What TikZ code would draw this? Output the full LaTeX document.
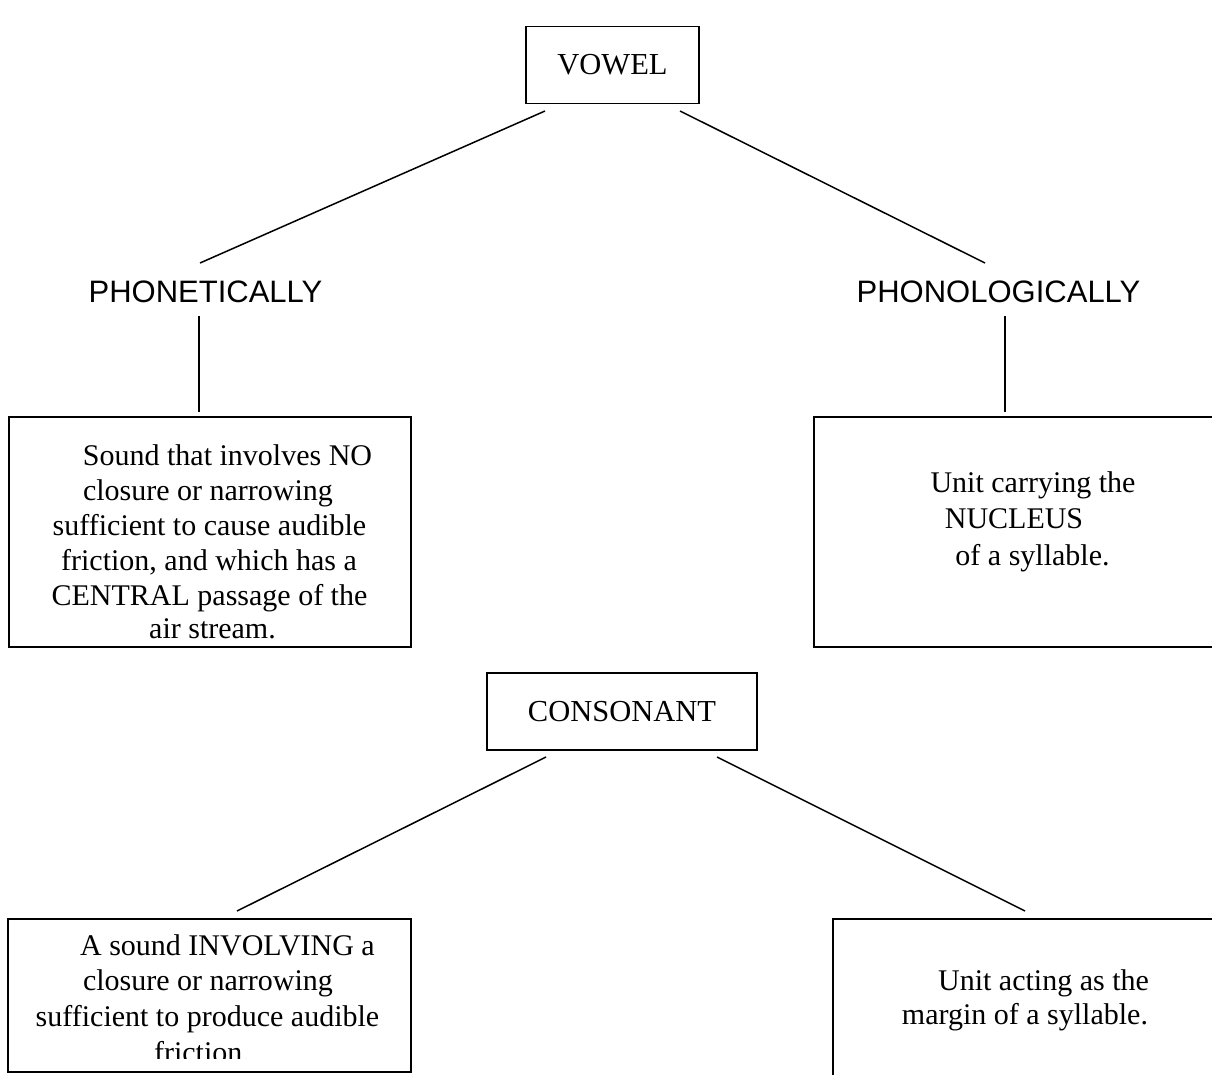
\documentclass[tikz,border=0pt]{standalone}
\usepackage{fontspec}
\setmainfont{Liberation Serif}
\newfontfamily\labfont{Liberation Sans}
\begin{document}
\begin{tikzpicture}[x=1pt,y=-1pt,
  box/.style={draw, line width=1.5pt, inner sep=0pt},
  titlebox/.style={draw, line width=1.5pt, inner sep=0pt, font=\fontsize{30.5}{36}\selectfont},
  txt/.style={anchor=base, inner sep=0pt, font=\fontsize{30}{36}\selectfont},
  head/.style={anchor=base, inner sep=0pt, font=\labfont\fontsize{31}{36}\selectfont},
  link/.style={line width=1.5pt}]
\clip (0,0) rectangle (1212,1074);
\fill[white] (0,0) rectangle (1212,1074);

% title boxes
\node[titlebox, minimum width=173pt, minimum height=77pt] (vowel) at (612.5,65) {VOWEL};
\node[titlebox, minimum width=270pt, minimum height=77pt] (cons) at (622,711.5) {CONSONANT};

% headings
\node[head] (phon) at (205.5,302) {PHONETICALLY};
\node[head] (phol) at (998.5,302) {PHONOLOGICALLY};

% definition boxes
\node[box, anchor=north west, minimum width=402pt, minimum height=230pt] (vphbox) at (8,416) {};
\node[box, anchor=north west, minimum width=430pt, minimum height=230pt] (vplbox) at (813,416) {};
\node[box, anchor=north west, minimum width=403pt, minimum height=153pt] (cphbox) at (7,918) {};
\node[box, anchor=north west, minimum width=430pt, minimum height=200pt] (cplbox) at (832,918) {};

% vowel phonetic text
\node[txt] (ph1) at (227.5,465) {Sound that involves NO};
\node[txt] (ph2) at (208,500) {closure or narrowing};
\node[txt] (ph3) at (209.5,535) {sufficient to cause audible};
\node[txt] (ph4) at (209,570) {friction, and which has a};
\node[txt] (ph5) at (209.5,605) {CENTRAL passage of the};
\node[txt] (ph6) at (212.5,638) {air stream.};

% vowel phonological text
\node[txt] (pl1) at (1033,492) {Unit carrying the};
\node[txt] (pl2) at (1014,528) {NUCLEUS};
\node[txt] (pl3) at (1032.5,565) {of a syllable.};

% consonant phonetic text (clipped by its box)
\begin{scope}
  \clip (8,919) rectangle (409,1058);
  \node[txt] (cp1) at (227.5,955) {A sound INVOLVING a};
  \node[txt] (cp2) at (208,990) {closure or narrowing};
  \node[txt] (cp3) at (207.5,1026) {sufficient to produce audible};
  \node[txt] (cp4) at (202,1062) {friction.};
\end{scope}

% consonant phonological text
\node[txt] (cm1) at (1043.5,990) {Unit acting as the};
\node[txt] (cm2) at (1025,1024) {margin of a syllable.};

% connector end points
\coordinate (vL) at (545,111);
\coordinate (vLe) at (200,263);
\coordinate (vR) at (680,111);
\coordinate (vRe) at (985,263);
\coordinate (phT) at (199,316);
\coordinate (phB) at (199,412);
\coordinate (plT) at (1005,316);
\coordinate (plB) at (1005,412);
\coordinate (cL) at (546,757);
\coordinate (cLe) at (237,911);
\coordinate (cR) at (717,757);
\coordinate (cRe) at (1025,911);

\draw[link] (vL) -- (vLe);
\draw[link] (vR) -- (vRe);
\draw[link] (phT) -- (phB);
\draw[link] (plT) -- (plB);
\draw[link] (cL) -- (cLe);
\draw[link] (cR) -- (cRe);
\end{tikzpicture}
\end{document}
